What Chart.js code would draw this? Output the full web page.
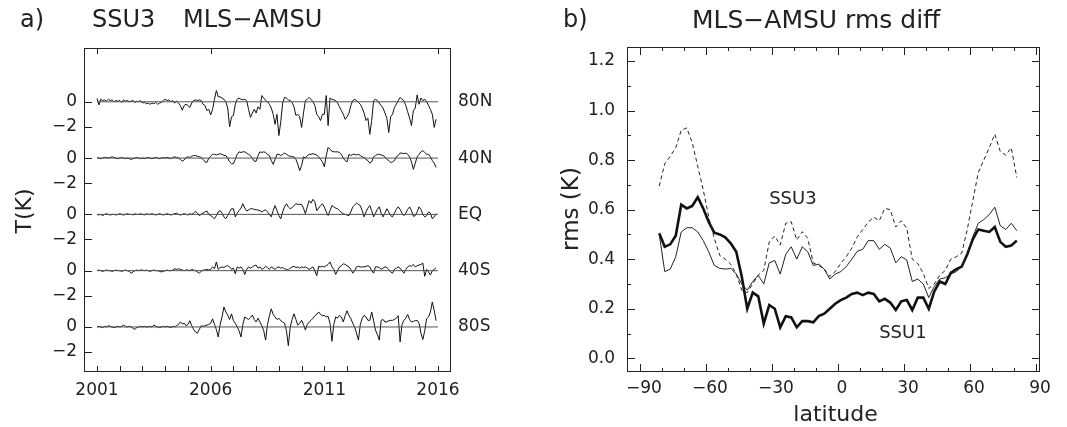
<!DOCTYPE html>
<html>
<head>
<meta charset="utf-8">
<script src="https://cdn.jsdelivr.net/npm/chart.js@4.4.0/dist/chart.umd.min.js"></script>
<style>
    body { margin: 0; background: #fff; }
    #wrap { position: relative; width: 1067px; height: 427px; }
    canvas { position: absolute; top: 0; }
    #grafico-a { left: 0; }
    #grafico-b { left: 533px; }
</style>
</head>
<body>
<div id="wrap">
    <canvas id="grafico-a" width="533" height="427"></canvas>
    <canvas id="grafico-b" width="534" height="427"></canvas>
</div>
<script>
// Panel a) monthly MLS-AMSU differences, SSU3, one row per latitude band
const years = [2001, 2002, 2003, 2004, 2005, 2006, 2007, 2008, 2009, 2010, 2011, 2012, 2013, 2014, 2015];
const months = [0, 1, 2, 3, 4, 5, 6, 7, 8, 9, 10, 11];
const regions = ['80N', '40N', 'EQ', '40S', '80S'];
const offsets = [18, 13.5, 9, 4.5, 0];
const yearTicks = [2001, 2002, 2003, 2004, 2005, 2006, 2007, 2008, 2009, 2010, 2011, 2012, 2013, 2014, 2015, 2016];
const yearLabels = [2001, 2006, 2011, 2016];

const t80N = [
    0.27, -0.25, 0.2, 0.1, 0.15, 0.05, 0.2, 0.1, 0.15, 0.0, 0.1, 0.05,
    0.1, -0.05, 0.15, 0.05, 0.1, 0.0, 0.05, 0.1, -0.05, 0.05, 0.0, 0.1,
    -0.1, -0.05, -0.15, -0.1, -0.2, -0.1, -0.15, -0.05, -0.2, -0.1, -0.05, 0.1,
    0.2, 0.1, 0.15, 0.0, 0.1, -0.1, 0.05, -0.1, -0.3, -0.67, -0.3, -0.2,
    -0.3, -0.45, -0.1, 0.1, 0.15, 0.1, 0.15, 0.1, -0.2, -0.3, -0.7, -0.6,
    -1.05, -0.6, 0.2, 0.9, 0.4, 0.4, 0.3, 0.2, 0.0, -0.5, -2.0, -1.2,
    -1.1, -0.2, 0.2, 0.3, 0.2, 0.15, 0.2, 0.1, -0.6, -1.25, -0.9, -0.6,
    -0.9, -0.4, -0.6, 0.5, 0.3, 0.1, 0.0, -0.2, -0.5, -1.0, -1.8, -1.0,
    -2.7, -1.6, -0.1, 0.35, 0.3, 0.15, 0.1, -0.05, -0.4, -1.1, -1.0, -1.2,
    -2.05, -0.9, 0.1, 0.2, 0.35, 0.2, 0.0, -0.3, -1.0, -1.2, -1.5, -1.0,
    -1.0, 0.5, -1.9, 0.3, 0.2, 0.15, 0.1, -0.1, -0.4, -0.7, -1.0, -1.4,
    -1.2, -0.9, -0.3, 0.1, 0.2, 0.1, -0.05, -0.2, -0.5, -0.9, -1.5, -1.3,
    -2.6, -1.5, 0.1, 0.2, 0.1, -0.1, -0.3, -0.5, -0.9, -1.3, -2.45, -1.2,
    -1.0, -0.45, -0.2, 0.1, 0.35, 0.2, 0.1, -0.3, -0.8, -1.3, -1.9, -0.7,
    -0.5, 0.55, -0.2, 0.3, 0.1, 0.2, 0.0, -0.3, -0.6, -1.0, -2.05, -1.4
];
const t40N = [
    0.05, 0.0, -0.05, 0.0, 0.05, 0.05, 0.0, 0.05, 0.1, 0.05, 0.0, -0.05,
    0.0, 0.05, 0.0, -0.05, 0.0, -0.05, -0.1, -0.05, 0.0, 0.05, 0.0, -0.05,
    0.0, -0.05, 0.0, 0.05, 0.0, -0.05, 0.0, 0.05, 0.0, -0.05, 0.0, 0.05,
    0.0, 0.05, 0.0, -0.05, 0.05, 0.1, 0.05, 0.0, -0.1, -0.25, -0.15, 0.05,
    0.1, 0.05, 0.15, 0.2, 0.2, 0.15, 0.1, 0.05, -0.1, -0.3, -0.35, 0.0,
    0.15, 0.3, 0.3, 0.25, 0.3, 0.35, 0.3, 0.2, 0.2, 0.0, -0.3, -0.45,
    -0.45, -0.1, 0.3, 0.5, 0.45, 0.5, 0.5, 0.4, 0.3, 0.2, 0.0, -0.25,
    -0.25, 0.2, 0.5, 0.45, 0.5, 0.45, 0.3, 0.2, -0.2, -0.5, -0.1, 0.3,
    0.3, 0.2, 0.3, 0.4, 0.3, 0.2, 0.15, 0.1, 0.1, -0.1, -0.5, -1.0,
    -0.6, 0.1, 0.0, 0.2, 0.3, 0.3, 0.35, 0.3, 0.25, 0.1, -0.1, -0.3,
    -0.7, 0.2, 0.85, 0.7, 0.55, 0.5, 0.5, 0.5, 0.45, 0.3, 0.0, -0.2,
    -0.3, 0.3, 0.2, 0.3, 0.3, 0.25, 0.3, 0.2, 0.1, 0.05, -0.1, -0.2,
    -0.4, -0.3, 0.1, 0.2, 0.3, 0.3, 0.25, 0.2, 0.1, -0.1, -0.2, -0.35,
    -0.3, -0.2, 0.1, 0.2, 0.4, 0.4, 0.35, 0.4, 0.3, 0.1, -0.3, -0.9,
    -0.4, 0.1, 0.3, 0.5, 0.6, 0.45, 0.3, 0.3, 0.1, -0.2, -0.4, -0.75
];
const tEQ = [
    0.0, -0.05, 0.0, -0.1, 0.0, 0.05, 0.0, -0.05, 0.0, 0.0, -0.05, 0.0,
    0.05, 0.0, -0.05, 0.0, 0.05, 0.0, 0.0, -0.05, 0.05, 0.0, 0.0, 0.05,
    0.0, -0.05, 0.05, 0.0, 0.0, 0.05, 0.0, -0.05, 0.0, 0.05, 0.0, -0.05,
    0.0, 0.05, 0.0, -0.05, 0.0, 0.05, 0.1, 0.0, -0.05, 0.0, 0.05, 0.0,
    -0.05, 0.05, 0.0, 0.1, 0.25, 0.1, -0.1, 0.0, 0.1, 0.2, 0.27, 0.0,
    -0.1, -0.2, -0.35, -0.1, 0.2, 0.3, 0.1, -0.2, -0.35, -0.1, 0.2, 0.45,
    0.45, -0.2, 0.1, 0.3, 0.5, 0.85, 0.5, 0.27, 0.35, 0.45, 0.45, 0.4,
    0.37, 0.35, 0.3, 0.2, 0.3, 0.37, 0.2, 0.0, -0.2, 0.3, 0.7, 0.3,
    -0.1, -0.35, 0.2, 0.6, 0.85, 0.6, 0.45, 0.55, 0.7, 0.85, 0.8, 0.8,
    0.8, 0.5, 0.05, 0.6, 1.1, 0.9, 1.2, 1.0, 0.3, 0.5, 0.7, 0.85,
    0.6, 0.2, -0.1, 0.3, 0.7, 0.6, 0.5, 0.45, 0.3, 0.15, 0.05, 0.0,
    -0.05, -0.1, 0.2, 0.6, 0.75, 0.9, 0.8, 0.7, 0.3, -0.2, 0.2, 0.5,
    0.7, 0.3, -0.2, 0.1, 0.4, 0.6, 0.1, -0.2, 0.1, 0.45, 0.2, -0.1,
    -0.2, 0.1, 0.4, 0.6, 0.4, 0.1, -0.1, 0.1, 0.4, 0.6, 0.3, -0.15,
    -0.1, 0.2, 0.6, 0.4, 0.0, -0.2, -0.1, 0.2, 0.1, -0.35, -0.2, 0.05
];
const t40S = [
    0.0, 0.05, 0.0, -0.05, 0.0, 0.05, 0.0, 0.0, -0.05, 0.0, 0.05, 0.0,
    0.0, -0.05, 0.0, 0.05, 0.0, -0.05, -0.2, -0.1, 0.0, 0.05, 0.0, 0.05,
    0.05, 0.0, 0.05, 0.0, -0.05, 0.0, 0.05, 0.0, 0.0, -0.05, -0.1, -0.05,
    0.0, 0.05, 0.0, 0.0, 0.05, 0.15, 0.1, 0.15, 0.1, 0.05, 0.0, 0.05,
    0.05, 0.0, 0.1, 0.05, 0.0, -0.1, -0.2, -0.05, 0.05, 0.05, 0.1, 0.05,
    0.1, 0.3, 0.15, 0.7, 0.1, 0.25, 0.3, 0.25, 0.35, 0.4, 0.3, 0.1,
    0.2, -0.25, 0.3, 0.2, 0.3, 0.1, -0.3, 0.1, 0.3, 0.2, 0.3, 0.4,
    0.45, 0.2, 0.3, 0.1, 0.2, 0.35, 0.25, 0.1, 0.3, 0.2, 0.1, 0.25,
    0.3, 0.2, 0.25, 0.15, 0.1, 0.05, 0.2, 0.3, 0.35, 0.25, 0.3, 0.2,
    0.3, 0.25, 0.3, 0.2, 0.1, 0.2, 0.3, 0.0, -0.4, 0.35, 0.3, 0.35,
    0.3, 0.4, 0.5, 0.7, 0.3, 0.1, -0.3, 0.0, 0.3, 0.4, 0.55, 0.5,
    0.4, 0.3, 0.1, -0.2, 0.0, 0.3, 0.35, 0.3, 0.3, 0.3, 0.35, 0.4,
    0.3, 0.0, -0.2, 0.3, 0.3, 0.25, 0.1, 0.2, 0.3, 0.25, 0.1, -0.1,
    -0.2, 0.1, 0.2, 0.3, 0.2, 0.0, -0.2, 0.1, 0.3, 0.4, 0.35, 0.5,
    0.3, 0.4, 0.45, 0.5, 0.6, -0.45, 0.1, -0.1, -0.35, 0.0, 0.1, 0.25
];
const t80S = [
    0.0, 0.05, 0.0, -0.05, 0.05, 0.0, 0.1, 0.05, 0.0, -0.05, 0.0, 0.05,
    0.0, 0.05, 0.15, 0.05, 0.0, 0.05, 0.0, -0.1, -0.2, -0.05, 0.0, 0.05,
    0.0, 0.05, 0.0, 0.0, 0.05, 0.0, 0.15, 0.05, 0.0, -0.05, 0.0, 0.05,
    0.0, 0.05, 0.0, -0.05, 0.05, 0.0, 0.1, 0.2, 0.4, 0.25, 0.3, 0.1,
    0.2, 0.5, 0.1, -0.2, -0.4, -0.5, -0.2, 0.1, 0.05, 0.1, 0.15, 0.2,
    0.3, 0.65, 0.2, -0.2, -0.8, 0.2, 0.8, 1.6, 1.2, 0.95, 0.6, 1.05,
    0.5, 0.3, 0.0, -0.3, -0.8, 0.2, 0.8, 0.7, 0.6, 0.75, 0.95, 0.6,
    0.4, 0.7, 0.4, 0.1, -0.3, -1.05, 0.2, 0.9, 1.45, 1.0, 0.8, 0.6,
    0.7, 0.5, 0.4, 0.3, -0.3, -1.5, 0.0, 0.6, 1.05, 0.6, 0.15, 0.3,
    0.53, 0.2, -0.25, 0.2, 0.4, 0.53, 0.7, 0.9, 1.0, 1.2, 1.0, 0.9,
    0.93, 0.8, 0.85, 0.3, -1.15, 0.2, 0.8, 0.7, 0.93, 0.8, 0.4, 0.9,
    1.3, 0.9, 0.67, 0.3, 0.0, -0.5, -1.05, 0.2, 0.7, 0.93, 0.8, 0.53,
    0.53, 1.2, 0.5, -0.25, -0.6, -1.05, 0.53, 0.6, 0.4, 0.4, 0.5, 0.53,
    0.53, 0.6, 0.7, 0.9, -1.2, 0.2, 0.53, 0.7, 1.0, 0.6, 0.4, 0.45,
    0.5, 0.53, 0.3, -0.5, -1.0, -0.3, 0.67, 0.8, 1.2, 2.0, 1.3, 0.5
];

// Panel b) rms difference against latitude
const latitudes = [
    -81.25, -78.75, -76.25, -73.75, -71.25, -68.75, -66.25, -63.75, -61.25, -58.75, -56.25,
    -53.75, -51.25, -48.75, -46.25, -43.75, -41.25, -38.75, -36.25, -33.75, -31.25, -28.75,
    -26.25, -23.75, -21.25, -18.75, -16.25, -13.75, -11.25, -8.75, -6.25, -3.75, -1.25,
    1.25, 3.75, 6.25, 8.75, 11.25, 13.75, 16.25, 18.75, 21.25, 23.75, 26.25,
    28.75, 31.25, 33.75, 36.25, 38.75, 41.25, 43.75, 46.25, 48.75, 51.25, 53.75,
    56.25, 58.75, 61.25, 63.75, 66.25, 68.75, 71.25, 73.75, 76.25, 78.75, 81.25
];
const rmsSSU1 = [
    0.505, 0.45, 0.46, 0.495, 0.62, 0.605, 0.615, 0.65, 0.605, 0.55, 0.507,
    0.50, 0.488, 0.464, 0.43, 0.33, 0.20, 0.265, 0.25, 0.14, 0.215, 0.20,
    0.125, 0.17, 0.165, 0.125, 0.15, 0.15, 0.145, 0.17, 0.18, 0.20, 0.22,
    0.235, 0.245, 0.26, 0.265, 0.255, 0.265, 0.26, 0.23, 0.24, 0.225, 0.195,
    0.23, 0.235, 0.195, 0.245, 0.245, 0.20, 0.27, 0.31, 0.30, 0.345, 0.36,
    0.37, 0.42, 0.48, 0.52, 0.515, 0.51, 0.53, 0.47, 0.45, 0.455, 0.475
];
const rmsSSU2 = [
    0.50, 0.35, 0.36, 0.41, 0.51, 0.527, 0.527, 0.51, 0.475, 0.43, 0.375,
    0.363, 0.36, 0.363, 0.34, 0.30, 0.275, 0.31, 0.335, 0.30, 0.385, 0.395,
    0.34, 0.42, 0.45, 0.40, 0.45, 0.43, 0.375, 0.38, 0.36, 0.32, 0.34,
    0.35, 0.37, 0.40, 0.432, 0.44, 0.475, 0.475, 0.44, 0.46, 0.445, 0.385,
    0.41, 0.397, 0.31, 0.32, 0.30, 0.245, 0.29, 0.32, 0.325, 0.34, 0.35,
    0.37, 0.42, 0.49, 0.545, 0.56, 0.58, 0.61, 0.535, 0.52, 0.545, 0.515
];
const rmsSSU3 = [
    0.695, 0.785, 0.815, 0.85, 0.92, 0.93, 0.87, 0.775, 0.68, 0.57, 0.485,
    0.415, 0.40, 0.38, 0.34, 0.275, 0.265, 0.30, 0.336, 0.355, 0.47, 0.494,
    0.457, 0.545, 0.551, 0.477, 0.511, 0.484, 0.385, 0.375, 0.36, 0.33, 0.35,
    0.383, 0.41, 0.445, 0.49, 0.52, 0.55, 0.57, 0.555, 0.605, 0.60, 0.53,
    0.555, 0.525, 0.40, 0.383, 0.343, 0.282, 0.30, 0.335, 0.355, 0.40, 0.41,
    0.425, 0.52, 0.635, 0.75, 0.80, 0.85, 0.905, 0.835, 0.82, 0.85, 0.73
];
const latTicks = [-90, -80, -70, -60, -50, -40, -30, -20, -10, 0, 10, 20, 30, 40, 50, 60, 70, 80, 90];
const rmsTicks = [0.0, 0.1, 0.2, 0.3, 0.4, 0.5, 0.6, 0.7, 0.8, 0.9, 1.0, 1.1, 1.2];

const FONT = 'DejaVu Sans';
const INK = '#222';

// frame, inward ticks and free text, drawn after the datasets
function frame(cfg) {
    return {
        id: 'frame',
        afterDraw(chart) {
            const ctx = chart.ctx;
            const a = chart.chartArea;
            ctx.save();
            ctx.strokeStyle = INK;
            ctx.lineWidth = 1;
            ctx.strokeRect(Math.round(a.left) + 0.5, Math.round(a.top) + 0.5,
                Math.round(a.right - a.left) - 1, Math.round(a.bottom - a.top) - 1);
            ctx.beginPath();
            cfg.marks.forEach(m => {
                const s = chart.scales[m.axis];
                m.values.forEach(v => {
                    const p = Math.round(s.getPixelForValue(v)) + 0.5;
                    const len = m.len(v);
                    m.sides.forEach(side => {
                        if (side === 'bottom') { ctx.moveTo(p, a.bottom); ctx.lineTo(p, a.bottom - len); }
                        if (side === 'top') { ctx.moveTo(p, a.top); ctx.lineTo(p, a.top + len); }
                        if (side === 'left') { ctx.moveTo(a.left, p); ctx.lineTo(a.left + len, p); }
                        if (side === 'right') { ctx.moveTo(a.right, p); ctx.lineTo(a.right - len, p); }
                    });
                });
            });
            ctx.stroke();
            ctx.fillStyle = INK;
            cfg.texts.forEach(t => {
                const pos = typeof t.pos === 'function' ? t.pos(chart) : t.pos;
                ctx.save();
                ctx.font = t.font;
                ctx.textAlign = t.align || 'left';
                ctx.textBaseline = 'middle';
                ctx.translate(pos[0], pos[1]);
                if (t.rot) ctx.rotate(t.rot);
                ctx.fillText(t.text, 0, 0);
                ctx.restore();
            });
            ctx.restore();
        }
    };
}

function fmtMinus(s) {
    return s.replace('-', '\u2212');
}

document.addEventListener('DOMContentLoaded', function() {
    Chart.defaults.font.family = FONT;
    Chart.defaults.color = INK;

    // Panel a)
    const times = years.flatMap(y => months.map(m => y + m / 12));
    const series = [t80N, t40N, tEQ, t40S, t80S];
    const leftTicks = offsets.slice().sort((p, q) => p - q).flatMap(o => [o - 2, o]);
    const rightTicks = offsets.slice().sort((p, q) => p - q);

    const zeroLines = offsets.map(o => ({
        data: [{x: yearLabels[0], y: o}, {x: yearLabels[yearLabels.length - 1], y: o}],
        borderColor: '#555',
        borderWidth: 1,
        pointRadius: 0
    }));
    const bands = series.map((s, i) => ({
        label: regions[i],
        data: s.map((v, j) => ({x: times[j], y: v + offsets[i]})),
        borderColor: '#111',
        borderWidth: 1,
        pointRadius: 0,
        tension: 0
    }));

    const ctxA = document.getElementById('grafico-a').getContext('2d');
    new Chart(ctxA, {
        type: 'line',
        data: { datasets: zeroLines.concat(bands) },
        options: {
            responsive: false,
            animation: false,
            events: [],
            layout: { padding: { top: 48, left: 0, right: 0, bottom: 0 } },
            plugins: { legend: { display: false }, tooltip: { enabled: false } },
            scales: {
                x: {
                    type: 'linear',
                    min: 2000.428,
                    max: 2016.572,
                    afterBuildTicks: s => { s.ticks = yearTicks.map(v => ({value: v})); },
                    afterFit: s => { s.height = 55; },
                    grid: { display: false, drawTicks: false },
                    border: { display: false },
                    ticks: {
                        autoSkip: false,
                        maxRotation: 0,
                        padding: 8,
                        font: { size: 17 },
                        callback: v => yearLabels.includes(v) ? String(v) : ''
                    }
                },
                y: {
                    position: 'left',
                    min: -3.6,
                    max: 22.3,
                    afterBuildTicks: s => { s.ticks = leftTicks.map(v => ({value: v})); },
                    afterFit: s => { s.width = 84; },
                    grid: { display: false, drawTicks: false },
                    border: { display: false },
                    ticks: {
                        padding: 7,
                        font: { size: 17 },
                        callback: (v, i) => i % 2 === 0 ? fmtMinus('-2') : '0'
                    }
                },
                y2: {
                    position: 'right',
                    min: -3.6,
                    max: 22.3,
                    afterBuildTicks: s => { s.ticks = rightTicks.map(v => ({value: v})); },
                    afterFit: s => { s.width = 82; },
                    grid: { display: false, drawTicks: false },
                    border: { display: false },
                    ticks: {
                        padding: 7,
                        font: { size: 17 },
                        callback: (v, i) => regions[regions.length - 1 - i]
                    }
                }
            }
        },
        plugins: [frame({
            marks: [
                { axis: 'x', values: yearTicks, sides: ['bottom'], len: () => 6 },
                { axis: 'x', values: yearLabels, sides: ['top'], len: () => 6 },
                { axis: 'y', values: leftTicks, sides: ['left'], len: () => 8 }
            ],
            texts: [
                { text: 'a)', pos: [20, 21], font: '24px ' + FONT },
                { text: 'SSU3', pos: [92, 21], font: '24px ' + FONT },
                { text: 'MLS\u2212AMSU', pos: [183, 21], font: '24px ' + FONT },
                { text: 'T(K)', pos: [25, 211], font: '22px ' + FONT, align: 'center', rot: -Math.PI / 2 }
            ]
        })]
    });

    // Panel b)
    const ctxB = document.getElementById('grafico-b').getContext('2d');
    const toXY = vals => vals.map((v, i) => ({x: latitudes[i], y: v}));
    new Chart(ctxB, {
        type: 'line',
        data: {
            datasets: [{
                label: 'SSU3',
                data: toXY(rmsSSU3),
                borderColor: '#222',
                borderWidth: 1,
                borderDash: [4, 3],
                pointRadius: 0
            },
            {
                label: 'SSU2',
                data: toXY(rmsSSU2),
                borderColor: '#222',
                borderWidth: 1,
                pointRadius: 0
            },
            {
                label: 'SSU1',
                data: toXY(rmsSSU1),
                borderColor: '#111',
                borderWidth: 2.6,
                pointRadius: 0
            }]
        },
        options: {
            responsive: false,
            animation: false,
            events: [],
            layout: { padding: { top: 47, left: 0, right: 27, bottom: 0 } },
            plugins: { legend: { display: false }, tooltip: { enabled: false } },
            scales: {
                x: {
                    type: 'linear',
                    min: -95.9,
                    max: 91.8,
                    afterBuildTicks: s => { s.ticks = latTicks.map(v => ({value: v})); },
                    afterFit: s => { s.height = 55; },
                    grid: { display: false, drawTicks: false },
                    border: { display: false },
                    ticks: {
                        autoSkip: false,
                        maxRotation: 0,
                        padding: 6,
                        labelOffset: 4,
                        font: { size: 17 },
                        callback: v => v % 30 === 0 ? fmtMinus(String(v)) : ''
                    }
                },
                y: {
                    min: -0.0553,
                    max: 1.2565,
                    afterBuildTicks: s => { s.ticks = rmsTicks.map(v => ({value: v})); },
                    afterFit: s => { s.width = 94; },
                    grid: { display: false, drawTicks: false },
                    border: { display: false },
                    ticks: {
                        padding: 12,
                        font: { size: 17 },
                        callback: v => Math.round(v * 10) % 2 === 0 ? v.toFixed(1) : ''
                    }
                }
            }
        },
        plugins: [frame({
            marks: [
                { axis: 'x', values: latTicks, sides: ['bottom', 'top'], len: v => v % 30 === 0 ? 8 : 4 },
                { axis: 'y', values: rmsTicks, sides: ['left', 'right'], len: v => Math.round(v * 10) % 2 === 0 ? 8 : 4 }
            ],
            texts: [
                { text: 'b)', pos: [30, 21], font: '24px ' + FONT },
                { text: 'MLS\u2212AMSU rms diff', pos: [159, 21], font: '25px ' + FONT },
                { text: 'rms (K)', pos: [39, 209], font: '23px ' + FONT, align: 'center', rot: -Math.PI / 2 },
                { text: 'latitude', pos: c => [(c.chartArea.left + c.chartArea.right) / 2 + 2, 415], font: '22px ' + FONT, align: 'center' },
                { text: 'SSU3', pos: c => [c.scales.x.getPixelForValue(-20.5), c.scales.y.getPixelForValue(0.643)], font: '18px ' + FONT, align: 'center' },
                { text: 'SSU1', pos: c => [c.scales.x.getPixelForValue(29.5), c.scales.y.getPixelForValue(0.10)], font: '18px ' + FONT, align: 'center' }
            ]
        })]
    });
});
</script>
</body>
</html>
